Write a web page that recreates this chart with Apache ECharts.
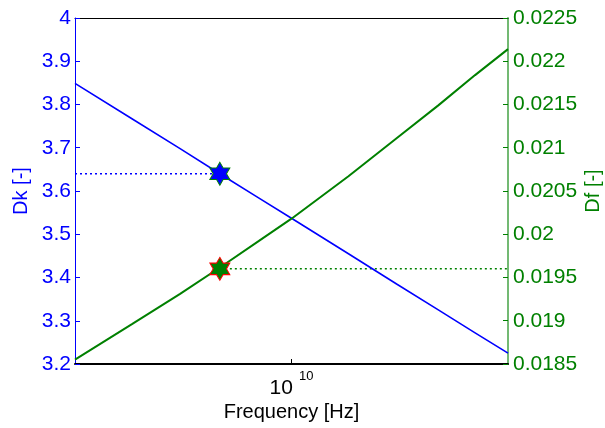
<!DOCTYPE html>
<html>
<head>
<meta charset="utf-8">
<script src="https://cdn.jsdelivr.net/npm/echarts@6/dist/echarts.min.js"></script>
<style>
  html, body { margin: 0; padding: 0; background: #fff; }
  #chart { width: 605px; height: 428px; }
</style>
</head>
<body>
<div id="chart"></div>
<script>
// Frequency sweep (Hz) with dielectric constant and loss tangent
const freqHz   = [5e9, 6e9, 7e9, 8e9, 9e9, 1e10, 1.2e10, 1.4e10, 1.6e10, 1.8e10, 2e10];
const dkValues = [3.849, 3.767, 3.698, 3.637, 3.584, 3.537, 3.455, 3.385, 3.325, 3.272, 3.225];
const dfValues = [0.01855, 0.01896, 0.01931, 0.01963, 0.01992, 0.02018, 0.02067, 0.02111, 0.02149, 0.02184, 0.02214];

// Highlighted operating point
const markerFreq = 7.95e9;
const markerDk = 3.64;
const markerDf = 0.0196;

// Axis ranges
const freqRange = [5e9, 2e10];
const dkRange = [3.2, 4.0];
const dkStep = 0.1;
const dfRange = [0.0185, 0.0225];
const dfStep = 0.0005;

const FONT = 'Liberation Sans, Arial, sans-serif';
const BLUE = '#0000ff';
const GREEN = '#008000';

// Six-pointed star (hexagram) outline
const HEXAGRAM = 'path://M100 0L128.87 50L186.6 50L157.7 100L186.6 150L128.87 150L100 200L71.13 150L13.4 150L42.3 100L13.4 50L71.13 50Z';

const trimNum = v => String(+(+v).toFixed(6));

const chart = echarts.init(document.getElementById('chart'), null, { renderer: 'canvas' });

chart.setOption({
  backgroundColor: '#fff',
  animation: false,
  grid: { left: 75, right: 97, top: 18, bottom: 64, containLabel: false, outerBoundsMode: 'none' },
  xAxis: [
    {
      type: 'log', logBase: 10, min: freqRange[0], max: freqRange[1],
      name: 'Frequency [Hz]', nameLocation: 'middle', nameGap: 38, nameMoveOverlap: false,
      nameTextStyle: { color: '#000', fontSize: 20, fontFamily: FONT },
      axisLine: { lineStyle: { color: '#000', width: 2 } },
      axisTick: { inside: true, length: 5, lineStyle: { color: '#000' } },
      splitLine: { show: false },
      minorTick: { show: false },
      axisLabel: {
        showMinLabel: false, showMaxLabel: false, margin: 6,
        formatter: v => Math.abs(Math.log10(v) - 10) < 1e-6 ? '{b|10}{s|10}' : '',
        rich: {
          b: { fontSize: 21, fontFamily: FONT, color: '#000' },
          s: { fontSize: 13, fontFamily: FONT, color: '#000', padding: [0, 0, 24, 6] }
        }
      }
    },
    {
      type: 'log', logBase: 10, min: freqRange[0], max: freqRange[1], position: 'top',
      axisLine: { lineStyle: { color: '#000', width: 1 } },
      axisTick: { show: false }, axisLabel: { show: false }, splitLine: { show: false }
    }
  ],
  yAxis: [
    {
      type: 'value', position: 'left', min: dkRange[0], max: dkRange[1], interval: dkStep,
      name: 'Dk [-]', nameLocation: 'middle', nameGap: 44, nameRotate: 90, nameMoveOverlap: false,
      nameTextStyle: { color: BLUE, fontSize: 20, fontFamily: FONT },
      axisLine: { show: true, lineStyle: { color: BLUE, width: 1 } },
      axisTick: { inside: true, length: 5, lineStyle: { color: BLUE } },
      splitLine: { show: false },
      axisLabel: { color: BLUE, fontSize: 21, fontFamily: FONT, margin: 4, formatter: trimNum }
    },
    {
      type: 'value', position: 'right', min: dfRange[0], max: dfRange[1], interval: dfStep,
      name: 'Df [-]', nameLocation: 'middle', nameGap: 75, nameRotate: 90, nameMoveOverlap: false,
      nameTextStyle: { color: GREEN, fontSize: 20, fontFamily: FONT },
      axisLine: { show: true, lineStyle: { color: 'rgba(0,128,0,0.55)', width: 2 } },
      axisTick: { inside: true, length: 5, lineStyle: { color: GREEN } },
      splitLine: { show: false },
      axisLabel: { color: GREEN, fontSize: 21, fontFamily: FONT, margin: 5, formatter: trimNum }
    }
  ],
  series: [
    {
      name: 'Dk', type: 'line', xAxisIndex: 0, yAxisIndex: 0, showSymbol: false, z: 2,
      lineStyle: { color: BLUE, width: 1.6 },
      data: freqHz.map((f, i) => [f, dkValues[i]])
    },
    {
      name: 'Df', type: 'line', xAxisIndex: 0, yAxisIndex: 1, showSymbol: false, z: 2,
      lineStyle: { color: GREEN, width: 2 },
      data: freqHz.map((f, i) => [f, dfValues[i]])
    },
    {
      name: 'Dk guide', type: 'line', xAxisIndex: 0, yAxisIndex: 0, showSymbol: false, z: 1,
      lineStyle: { color: BLUE, width: 1.5, type: [2, 3] },
      data: [[freqRange[0], markerDk], [markerFreq, markerDk]]
    },
    {
      name: 'Df guide', type: 'line', xAxisIndex: 0, yAxisIndex: 1, showSymbol: false, z: 1,
      lineStyle: { color: GREEN, width: 1.5, type: [2, 3] },
      data: [[markerFreq, markerDf], [freqRange[1], markerDf]]
    },
    {
      name: 'Dk point', type: 'scatter', xAxisIndex: 0, yAxisIndex: 0, z: 5,
      symbol: HEXAGRAM, symbolSize: [20, 23],
      itemStyle: { color: BLUE, borderColor: GREEN, borderWidth: 1, opacity: 1 },
      data: [[markerFreq, markerDk]]
    },
    {
      name: 'Df point', type: 'scatter', xAxisIndex: 0, yAxisIndex: 1, z: 5,
      symbol: HEXAGRAM, symbolSize: [20, 23],
      itemStyle: { color: GREEN, borderColor: '#ff0000', borderWidth: 1, opacity: 1 },
      data: [[markerFreq, markerDf]]
    }
  ]
});
</script>
</body>
</html>
